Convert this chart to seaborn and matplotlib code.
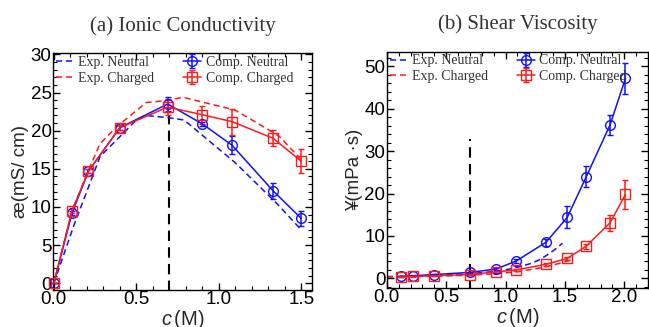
import numpy as np
import pandas as pd
import matplotlib
matplotlib.use("Agg")
import matplotlib.pyplot as plt
from matplotlib.ticker import MultipleLocator
import seaborn as sns

# ---- (a) ionic conductivity ----
c_a = [0.0, 0.11, 0.21, 0.40, 0.69, 0.90, 1.08, 1.33, 1.50]
cond_neutral = [0.0, 9.2, 14.7, 20.4, 23.5, 20.9, 18.1, 12.1, 8.5]
cond_neutral_err = [0.0, 0.3, 0.3, 0.3, 0.9, 0.3, 1.2, 1.1, 1.0]
cond_charged = [0.0, 9.5, 14.7, 20.4, 23.1, 22.1, 21.2, 19.0, 16.0]
cond_charged_err = [0.0, 0.3, 0.3, 0.3, 1.0, 1.2, 1.7, 1.05, 1.6]

exp_a_neutral_c = [0.0, 0.12, 0.18, 0.28, 0.50, 0.56, 0.70, 0.79, 1.10, 1.35, 1.50]
exp_a_neutral = [0.0, 7.5, 10.9, 16.6, 21.4, 22.0, 21.7, 21.4, 15.8, 10.5, 7.0]
exp_a_charged_c = [0.0, 0.11, 0.22, 0.28, 0.38, 0.56, 0.70, 0.78, 1.10, 1.32, 1.37, 1.50]
exp_a_charged = [0.0, 9.5, 15.3, 18.3, 20.5, 23.7, 24.0, 24.4, 22.7, 19.9, 19.2, 16.2]

# ---- (b) shear viscosity ----
c_b = [0.12, 0.22, 0.40, 0.70, 0.92, 1.09, 1.34, 1.52, 1.68, 1.88, 2.01]
visc_neutral = [0.5, 0.6, 0.9, 1.4, 2.2, 4.1, 8.5, 14.4, 24.0, 36.2, 47.2]
visc_neutral_err = [0.1, 0.1, 0.1, 0.2, 0.3, 0.4, 0.9, 2.6, 2.5, 2.4, 3.6]
visc_charged = [0.4, 0.45, 0.6, 0.9, 1.5, 2.0, 3.3, 4.7, 7.6, 13.1, 19.8]
visc_charged_err = [0.1, 0.1, 0.1, 0.1, 0.2, 0.2, 0.3, 0.4, 0.6, 1.9, 3.5]

exp_b_neutral_c = [0.0, 0.3, 0.5, 0.7, 0.9, 1.0, 1.1, 1.2, 1.28, 1.35, 1.42, 1.48]
exp_b_neutral = [0.4, 0.6, 0.8, 1.1, 1.6, 2.0, 2.6, 3.4, 4.3, 5.5, 6.9, 8.3]
exp_b_charged_c = [0.0, 0.3, 0.5, 0.7, 0.9, 1.1, 1.3, 1.45, 1.55]
exp_b_charged = [0.3, 0.45, 0.55, 0.75, 1.05, 1.55, 2.5, 3.5, 4.3]

sns.set_theme(style="ticks")
plt.rcParams["font.family"] = ["Liberation Sans", "DejaVu Sans"]
plt.rcParams["mathtext.fontset"] = "custom"
plt.rcParams["mathtext.it"] = "Liberation Sans:italic"
plt.rcParams["mathtext.rm"] = "Liberation Sans"
plt.rcParams["axes.edgecolor"] = "black"
plt.rcParams["axes.linewidth"] = 1.0

blue = "#1010ff"
red = "#ff1a1a"
serif = ["Liberation Serif", "DejaVu Serif"]

fig = plt.figure(figsize=(6.49, 3.27), dpi=100)
ax1 = fig.add_axes([0.0817, 0.113, 0.399, 0.725])
ax2 = fig.add_axes([0.596, 0.119, 0.4025, 0.723])


def draw(ax, exp_n_c, exp_n, exp_c_c, exp_c, c, yn, en, yc, ec):
    sns.lineplot(x=exp_n_c, y=exp_n, ax=ax, color=blue, lw=1.1,
                 linestyle=(0, (4, 2.5)), label="Exp. Neutral", sort=False)
    sns.lineplot(x=exp_c_c, y=exp_c, ax=ax, color=red, lw=1.1,
                 linestyle=(0, (4, 2.5)), label="Exp. Charged", sort=False)
    ax.errorbar(c, yn, yerr=en, color=blue, lw=1.1, marker="o", ms=7,
                mfc="none", mew=1.0, capsize=2.5, elinewidth=1.1,
                label="Comp. Neutral", clip_on=False, zorder=3)
    ax.errorbar(c, yc, yerr=ec, color=red, lw=1.1, marker="s", ms=7,
                mfc="none", mew=1.0, capsize=2.5, elinewidth=1.1,
                label="Comp. Charged", clip_on=False, zorder=3)


draw(ax1, exp_a_neutral_c, exp_a_neutral, exp_a_charged_c, exp_a_charged,
     c_a, cond_neutral, cond_neutral_err, cond_charged, cond_charged_err)
draw(ax2, exp_b_neutral_c, exp_b_neutral, exp_b_charged_c, exp_b_charged,
     c_b, visc_neutral, visc_neutral_err, visc_charged, visc_charged_err)

# vertical marker at 0.7 M
ax1.plot([0.7, 0.7], [-1, 22.0], color="black", lw=1.5, linestyle=(0, (5, 3)), zorder=1)
ax2.plot([0.7, 0.7], [-3, 33.0], color="black", lw=1.5, linestyle=(0, (5, 3)), zorder=1)

ax1.set_xlim(-0.005, 1.565)
ax1.set_ylim(-0.9, 30.2)
ax1.xaxis.set_major_locator(MultipleLocator(0.5))
ax1.xaxis.set_minor_locator(MultipleLocator(0.1))
ax1.yaxis.set_major_locator(MultipleLocator(5))
ax1.yaxis.set_minor_locator(MultipleLocator(1))
ax1.set_ylabel("æ(mS/ cm)", fontsize=13.5, labelpad=1)

ax2.set_xlim(0.0, 2.2)
ax2.set_ylim(-2.3, 53.5)
ax2.xaxis.set_major_locator(MultipleLocator(0.5))
ax2.xaxis.set_minor_locator(MultipleLocator(0.1))
ax2.yaxis.set_major_locator(MultipleLocator(10))
ax2.yaxis.set_minor_locator(MultipleLocator(2))
ax2.set_ylabel("¥(mPa ·s)", fontsize=13.5, labelpad=1)

for ax, title in [(ax1, "(a) Ionic Conductivity"), (ax2, "(b) Shear Viscosity")]:
    ax.set_title(title, fontsize=15, family=serif, color="#333333", pad=16)
    ax.set_xlabel(r"$c\,$(M)", fontsize=14.5, labelpad=0)
    ax.xaxis.set_major_formatter(matplotlib.ticker.FormatStrFormatter("%.1f"))
    ax.tick_params(which="both", direction="in", top=True, right=True,
                   labelsize=13.5, pad=1, colors="black")
    ax.tick_params(which="major", length=5, width=1)
    ax.tick_params(which="minor", length=3, width=0.8)
    for s in ax.spines.values():
        s.set_visible(True)
        s.set_color("black")
    h, l = ax.get_legend_handles_labels()
    order = [l.index(n) for n in ["Exp. Neutral", "Exp. Charged", "Comp. Neutral", "Comp. Charged"]]
    leg = ax.legend([h[i] for i in order], [l[i] for i in order], ncol=2,
                    loc="upper left", bbox_to_anchor=(0.0, 1.0), frameon=False,
                    prop={"family": serif, "size": 10}, handlelength=1.3,
                    handletextpad=0.3, columnspacing=2.1, labelspacing=0.2,
                    borderpad=0.1, borderaxespad=0.1)
    for t in leg.get_texts():
        t.set_color("#333333")

fig.savefig("out.png", dpi=100)
